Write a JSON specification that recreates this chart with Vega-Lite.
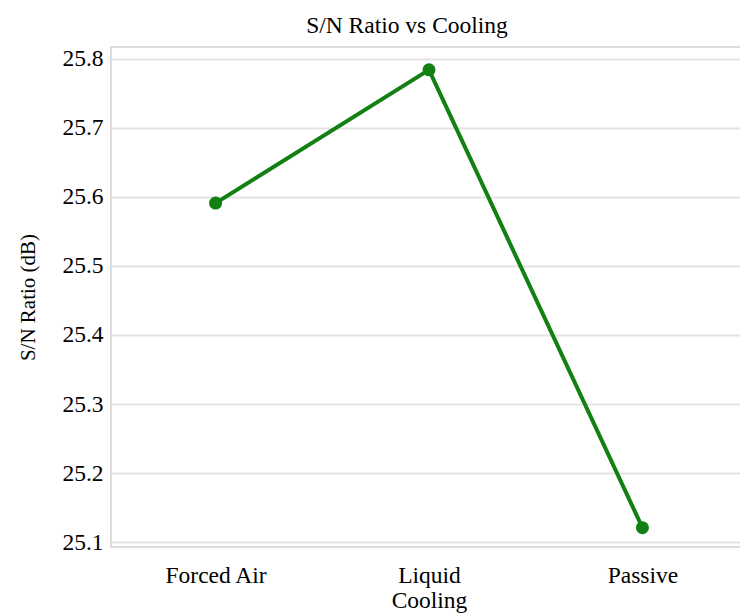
{
  "$schema": "https://vega.github.io/schema/vega-lite/v6.json",
  "autosize": "none",
  "padding": {"left": 111, "top": 47, "right": 0, "bottom": 67},
  "width": 636,
  "height": 500,
  "background": "white",
  "config": {
    "font": "Times New Roman, Liberation Serif, serif",
    "view": {"stroke": "#dcdcdc", "strokeWidth": 2},
    "axis": {
      "labelFont": "Times New Roman, Liberation Serif, serif",
      "titleFont": "Times New Roman, Liberation Serif, serif",
      "labelColor": "#000",
      "titleColor": "#000"
    }
  },
  "title": {
    "text": "S/N Ratio vs Cooling",
    "font": "Times New Roman, Liberation Serif, serif",
    "fontSize": 23.5,
    "fontWeight": "normal",
    "color": "#000",
    "anchor": "middle",
    "frame": "group",
    "dx": -22,
    "offset": 9
  },
  "data": {
    "values": [
      {"cooling": "Forced Air", "sn": 25.591},
      {"cooling": "Liquid Cooling", "sn": 25.784},
      {"cooling": "Passive", "sn": 25.121}
    ]
  },
  "encoding": {
    "x": {
      "field": "cooling",
      "type": "nominal",
      "sort": null,
      "scale": {"type": "point", "padding": 0.49},
      "axis": {
        "title": null,
        "labelAngle": 0,
        "labelFont": "Times New Roman, Liberation Serif, serif",
        "labelFontSize": 23.5,
        "labelColor": "#000",
        "labelPadding": 16,
        "labelLineHeight": 25,
        "ticks": false,
        "domain": false,
        "grid": false,
        "labelExpr": "datum.label == 'Liquid Cooling' ? ['Liquid', 'Cooling'] : datum.label"
      }
    },
    "y": {
      "field": "sn",
      "type": "quantitative",
      "scale": {"domain": [25.093, 25.817], "nice": false, "zero": false},
      "axis": {
        "title": "S/N Ratio (dB)",
        "titleFont": "Times New Roman, Liberation Serif, serif",
        "titleFontSize": 21,
        "titleFontWeight": "normal",
        "titleColor": "#000",
        "titlePadding": 23,
        "values": [25.1, 25.2, 25.3, 25.4, 25.5, 25.6, 25.7, 25.8],
        "format": ".1f",
        "labelFont": "Times New Roman, Liberation Serif, serif",
        "labelFontSize": 23.5,
        "labelColor": "#000",
        "labelPadding": 8,
        "ticks": false,
        "domain": false,
        "grid": true,
        "gridColor": "#e3e3e3",
        "gridWidth": 2
      }
    }
  },
  "layer": [
    {"mark": {"type": "line", "color": "#128012", "strokeWidth": 4}},
    {"mark": {"type": "point", "filled": true, "color": "#128012", "size": 170, "opacity": 1}}
  ]
}
